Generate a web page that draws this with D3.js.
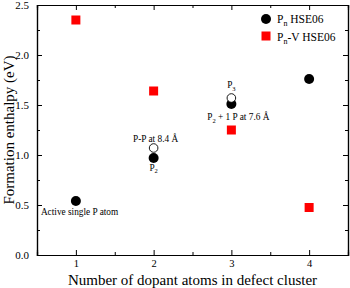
<!DOCTYPE html>
<html>
<head>
<meta charset="UTF-8">
<script src="https://d3js.org/d3.v7.min.js"></script>
<style>
  body { margin: 0; background: #fff; }
  svg { display: block; font-family: "Liberation Serif", "Times New Roman", serif; }
</style>
</head>
<body>
<div id="chart"></div>
<script>
const clusterSize = [1, 2, 3, 4];
const pnHSE = [0.54, 0.97, 1.51, 1.76];
const pnvHSE = [2.35, 1.64, 1.25, 0.475];
const openX = [2, 3];
const openY = [1.07, 1.57];
const xTicks = [1, 2, 3, 4];
const yTicks = [0.0, 0.5, 1.0, 1.5, 2.0, 2.5];

const W = 350, H = 288;
const margin = {top: 5, right: 2, bottom: 33, left: 37};
const width = W - margin.left - margin.right,
      height = H - margin.top - margin.bottom;

const svg = d3.select("#chart").append("svg")
  .attr("width", W).attr("height", H);
const g = svg.append("g").attr("transform", `translate(${margin.left},${margin.top})`);

const x = d3.scaleLinear().domain([0.5, 4.5]).range([0, width]);
const y = d3.scaleLinear().domain([0, 2.5]).range([height, 0]);

const xMinor = [1.5, 2.5, 3.5];
const yMinor = d3.range(0.25, 2.5, 0.5);

// axes, ticks inward on all sides
g.append("g").attr("transform", `translate(0,${height})`)
  .call(d3.axisBottom(x).tickValues(xTicks).tickSize(-5).tickPadding(5).tickFormat(d3.format("d")))
  .call(a => a.selectAll("text").style("font-size", "10.5px"));
g.append("g").attr("transform", `translate(0,${height})`)
  .call(d3.axisBottom(x).tickValues(xMinor).tickSize(-3).tickFormat(""));
g.append("g")
  .call(d3.axisTop(x).tickValues(xTicks).tickSize(-5).tickFormat(""));
g.append("g")
  .call(d3.axisTop(x).tickValues(xMinor).tickSize(-3).tickFormat(""));

g.append("g")
  .call(d3.axisLeft(y).tickValues(yTicks).tickSize(-5).tickPadding(8).tickFormat(d3.format(".1f")))
  .call(a => a.selectAll("text").style("font-size", "11px"));
g.append("g")
  .call(d3.axisLeft(y).tickValues(yMinor).tickSize(-3).tickFormat(""));
g.append("g").attr("transform", `translate(${width},0)`)
  .call(d3.axisRight(y).tickValues(yTicks).tickSize(-5).tickFormat(""));
g.append("g").attr("transform", `translate(${width},0)`)
  .call(d3.axisRight(y).tickValues(yMinor).tickSize(-3).tickFormat(""));

g.selectAll(".domain").attr("stroke", "#000").attr("stroke-width", 1.2);
g.selectAll(".tick line").attr("stroke", "#000").attr("stroke-width", 1);
g.selectAll(".tick text").attr("fill", "#000").style("font-family", "Liberation Serif, serif");

// axis titles
svg.append("text")
  .attr("x", margin.left + width / 2).attr("y", H - 3.5)
  .attr("text-anchor", "middle").style("font-size", "15px")
  .text("Number of dopant atoms in defect cluster");
svg.append("text")
  .attr("transform", `translate(14,${margin.top + height / 2}) rotate(-90)`)
  .attr("text-anchor", "middle").style("font-size", "15px")
  .text("Formation enthalpy (eV)");

// red squares
const s = 9;
g.selectAll(".sq").data(clusterSize).enter().append("rect")
  .attr("x", (d) => x(d) - s / 2)
  .attr("y", (d, i) => y(pnvHSE[i]) - s / 2)
  .attr("width", s).attr("height", s)
  .attr("fill", "#ff0000");

// black circles
g.selectAll(".dot").data(clusterSize).enter().append("circle")
  .attr("cx", d => x(d))
  .attr("cy", (d, i) => y(pnHSE[i]))
  .attr("r", 5).attr("fill", "#000");

// open circles
g.selectAll(".open").data(openX).enter().append("circle")
  .attr("cx", d => x(d))
  .attr("cy", (d, i) => y(openY[i]))
  .attr("r", 4.3).attr("fill", "#fff").attr("stroke", "#000").attr("stroke-width", 0.9);

// annotations
const ann = g.append("g").style("font-size", "9.3px");
ann.append("text").attr("x", x(1) - 35).attr("y", y(pnHSE[0]) + 14).text("Active single P atom");
const p2 = ann.append("text").attr("x", x(2)).attr("y", y(pnHSE[1]) + 12.5).attr("text-anchor", "middle");
p2.append("tspan").text("P");
p2.append("tspan").attr("dy", 2.5).style("font-size", "6.5px").text("2");
ann.append("text").attr("x", x(2) + 2).attr("y", y(openY[0]) - 6.5).attr("text-anchor", "middle").text("P-P at 8.4 Å");
const p3 = ann.append("text").attr("x", x(3)).attr("y", y(openY[1]) - 10).attr("text-anchor", "middle");
p3.append("tspan").text("P");
p3.append("tspan").attr("dy", 2.5).style("font-size", "6.5px").text("3");
const p21 = ann.append("text").attr("x", x(3) + 7).attr("y", y(pnHSE[2]) + 16).attr("text-anchor", "middle");
p21.append("tspan").text("P");
p21.append("tspan").attr("dy", 2.5).style("font-size", "6.5px").text("2");
p21.append("tspan").attr("dy", -2.5).text(" + 1 P at 7.6 Å");

// legend
const leg = svg.append("g").attr("transform", "translate(266,19)").style("font-size", "11.5px");
leg.append("circle").attr("cx", 0).attr("cy", 0).attr("r", 5).attr("fill", "#000");
const l1 = leg.append("text").attr("x", 11).attr("y", 4);
l1.append("tspan").text("P");
l1.append("tspan").attr("dy", 3).style("font-size", "8px").text("n");
l1.append("tspan").attr("dy", -3).text(" HSE06");
leg.append("rect").attr("x", -4.5).attr("y", 17 - 4.5).attr("width", 9).attr("height", 9).attr("fill", "#ff0000");
const l2 = leg.append("text").attr("x", 11).attr("y", 21.5);
l2.append("tspan").text("P");
l2.append("tspan").attr("dy", 3).style("font-size", "8px").text("n");
l2.append("tspan").attr("dy", -3).text("-V HSE06");
</script>
</body>
</html>
